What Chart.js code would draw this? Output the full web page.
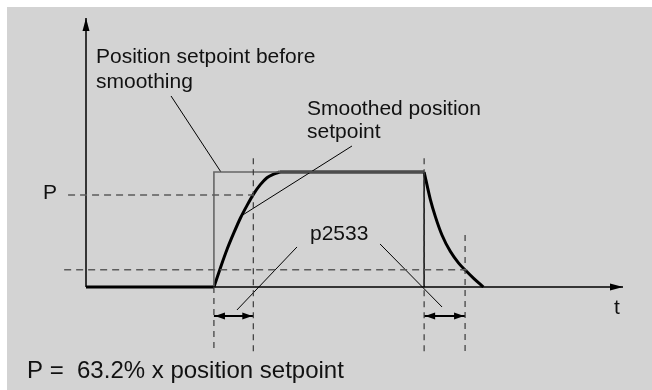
<!DOCTYPE html>
<html>
<head>
<meta charset="utf-8">
<script src="https://cdn.jsdelivr.net/npm/chart.js@4.4.0/dist/chart.umd.min.js"></script>
<style>
  html, body { margin: 0; padding: 0; background: #ffffff; }
  #panel { position: absolute; left: 7px; top: 7px; width: 645px; height: 383px; background: #d3d3d3; }
  #c { position: absolute; left: 0; top: 0; }
</style>
</head>
<body>
<div id="panel"></div>
<canvas id="c" width="652" height="390"></canvas>
<script>
// Time in units of the smoothing time constant (p2533), position as a fraction of the setpoint.
const stepOn = 3.28;
const stepOff = 8.67;
const axisEndT = 13.77;
const axisTopY = 2.34;

// Unsmoothed setpoint: step up at stepOn, held until stepOff
const setpointTimes = [stepOn, stepOn, stepOff];
const setpointValues = [0, 1, 1];

// Smoothed setpoint, rising edge
const riseTimes = [3.28, 3.45, 3.62, 3.79, 3.96, 4.13, 4.30, 4.47, 4.64, 4.80, 4.97];
const riseValues = [0, 0.17, 0.33, 0.47, 0.60, 0.71, 0.81, 0.89, 0.95, 0.98, 1.0];

// Smoothed setpoint, falling edge
const fallTimes = [8.67, 8.83, 8.96, 9.13, 9.34, 9.55, 9.73, 9.94, 10.19];
const fallValues = [1.0, 0.76, 0.61, 0.45, 0.31, 0.21, 0.145, 0.075, 0];

// Reference levels and marker times
const levelP = 0.80;
const levelLow = 0.15;
const riseMarkT = 4.29;
const fallMarkT = 9.72;

// Text
const axisLabels = ['P', 't'];
const annotationTexts = ['Position setpoint before', 'smoothing', 'Smoothed position', 'setpoint', 'p2533'];
const footnote = 'P =  63.2% x position setpoint';

const pts = (xs, ys) => xs.map((x, i) => ({ x: x, y: ys[i] }));
const seg = (x1, y1, x2, y2) => [{ x: x1, y: y1 }, { x: x2, y: y2 }];

const lineDs = (data, color, width, extra) => Object.assign({
  data: data, borderColor: color, borderWidth: width, showLine: true,
  pointRadius: 0, fill: false, tension: 0
}, extra || {});

const dashH = { borderDash: [7, 5] };
const dashV = { borderDash: [6, 5] };
const dimLow = -0.574; // lower end of the vertical marker lines
const dimTop = 1.12;   // upper end of the vertical marker lines
const arrowY = -0.252; // level of the p2533 dimension arrows

const datasets = [
  // reference levels
  lineDs(seg(-0.46, levelP, riseMarkT, levelP), '#5c5c5c', 1.3, dashH),
  lineDs(seg(-0.56, levelLow, 9.9, levelLow), '#5c5c5c', 1.3, dashH),
  // vertical markers
  lineDs(seg(stepOn, 0, stepOn, dimLow), '#3a3a3a', 1.2, dashV),
  lineDs(seg(riseMarkT, dimTop, riseMarkT, dimLow), '#3a3a3a', 1.2, dashV),
  lineDs(seg(stepOff, dimTop, stepOff, dimLow), '#3a3a3a', 1.2, dashV),
  lineDs(seg(fallMarkT, 0.452, fallMarkT, dimLow), '#3a3a3a', 1.2, dashV),
  // axes
  lineDs(seg(0, 0, axisEndT, 0), '#000000', 1.5),
  lineDs(seg(0, 0, 0, axisTopY), '#000000', 1.5),
  // setpoint before smoothing
  lineDs(pts(setpointTimes, setpointValues), '#666666', 1.6),
  lineDs(seg(stepOff, 1, stepOff, 0), '#1a1a1a', 1.6),
  // smoothed setpoint
  lineDs(seg(0, 0, stepOn, 0), '#000000', 3),
  lineDs(pts(riseTimes, riseValues), '#000000', 3, { cubicInterpolationMode: 'monotone' }),
  lineDs(seg(riseTimes[riseTimes.length - 1], 1, stepOff, 1), '#000000', 3),
  lineDs(pts(fallTimes, fallValues), '#000000', 3, { cubicInterpolationMode: 'monotone' }),
  // leader lines
  lineDs(seg(2.18, 1.661, 3.46, 1.0), '#000000', 1),
  lineDs(seg(6.82, 1.226, 3.99, 0.62), '#000000', 1),
  lineDs(seg(5.41, 0.348, 3.87, -0.2), '#000000', 1),
  lineDs(seg(7.54, 0.374, 9.13, -0.174), '#000000', 1),
  // dimension arrows
  lineDs(seg(stepOn, arrowY, riseMarkT, arrowY), '#000000', 1.8),
  lineDs(seg(stepOff, arrowY, fallMarkT, arrowY), '#000000', 1.8)
];

function arrowHead(ctx, tipX, tipY, dx, dy, len, half) {
  const px = -dy, py = dx;
  ctx.beginPath();
  ctx.moveTo(tipX, tipY);
  ctx.lineTo(tipX - dx * len + px * half, tipY - dy * len + py * half);
  ctx.lineTo(tipX - dx * len - px * half, tipY - dy * len - py * half);
  ctx.closePath();
  ctx.fill();
}

const decorations = {
  id: 'decorations',
  afterDatasetsDraw(chart) {
    const ctx = chart.ctx;
    const xs = chart.scales.x, ys = chart.scales.y;
    const X = v => xs.getPixelForValue(v), Y = v => ys.getPixelForValue(v);
    ctx.save();
    ctx.fillStyle = '#000000';
    // axis arrowheads
    arrowHead(ctx, X(axisEndT), Y(0), 1, 0, 13, 3.5);
    arrowHead(ctx, X(0), Y(axisTopY), 0, -1, 13, 3.5);
    // dimension arrowheads
    [[stepOn, riseMarkT], [stepOff, fallMarkT]].forEach(([a, b]) => {
      arrowHead(ctx, X(a) + 1, Y(arrowY), -1, 0, 10, 3.5);
      arrowHead(ctx, X(b) - 1, Y(arrowY), 1, 0, 10, 3.5);
    });
    // text
    ctx.fillStyle = '#111111';
    ctx.textBaseline = 'alphabetic';
    ctx.textAlign = 'left';
    ctx.font = '21px "Liberation Sans", Arial, sans-serif';
    const put = (t, x, y) => ctx.fillText(t, X(x), Y(y));
    put(annotationTexts[0], 0.256, 1.948);
    put(annotationTexts[1], 0.256, 1.730);
    put(annotationTexts[2], 5.667, 1.496);
    put(annotationTexts[3], 5.667, 1.296);
    put(annotationTexts[4], 5.744, 0.409);
    put(axisLabels[0], -1.103, 0.765);
    put(axisLabels[1], 13.54, -0.235);
    ctx.font = '24px "Liberation Sans", Arial, sans-serif';
    put(footnote, -1.513, -0.791);
    ctx.restore();
  }
};

new Chart(document.getElementById('c'), {
  type: 'scatter',
  data: { datasets: datasets },
  options: {
    responsive: false,
    animation: false,
    events: [],
    layout: { padding: 0 },
    plugins: { legend: { display: false }, tooltip: { enabled: false } },
    scales: {
      x: { type: 'linear', display: false, min: -86 / 39, max: (652 - 86) / 39 },
      y: { type: 'linear', display: false, min: -(390 - 287) / 115, max: 287 / 115 }
    },
    elements: { line: { borderCapStyle: 'butt', borderJoinStyle: 'miter' } }
  },
  plugins: [decorations]
});
</script>
</body>
</html>
